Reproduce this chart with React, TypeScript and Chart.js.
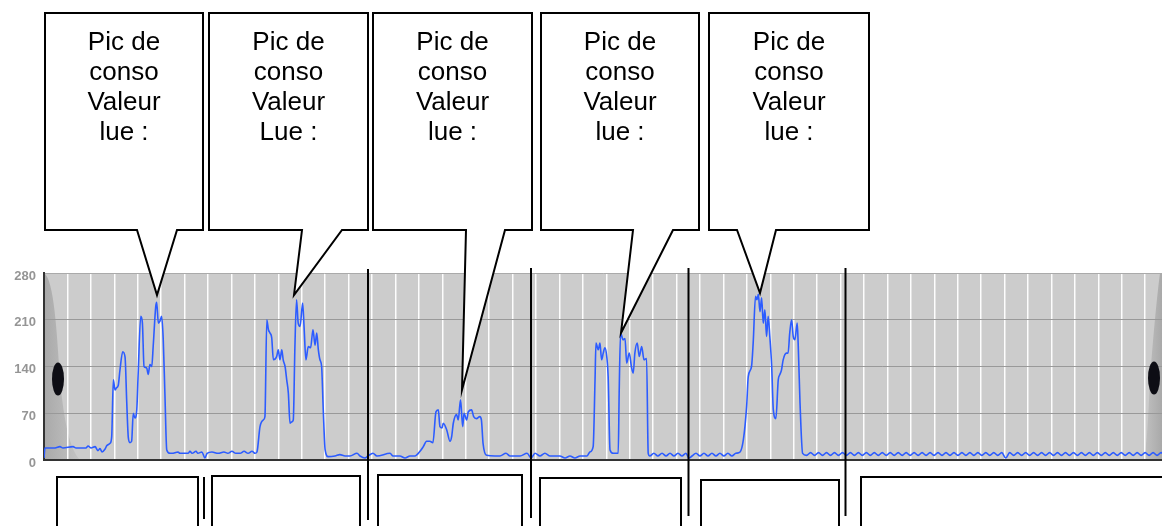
import { useEffect, useRef } from 'react';
import { Chart, registerables } from 'chart.js';

Chart.register(...registerables);

// ---- DATA (time in grid units, consumption value) ----
const times: number[] = [
  // baseline before peak 1
  0, 0.04, 0.47, 0.68, 0.81, 1.24, 1.37, 1.79, 1.88, 2.01, 2.18, 2.30, 2.39, 2.48, 2.60, 2.69, 2.82, 2.89,
  // peak 1
  2.96, 3.03, 3.09, 3.17, 3.24, 3.36, 3.46, 3.53, 3.60, 3.67, 3.74, 3.81, 3.88, 3.96, 4.02, 4.13, 4.20, 4.27,
  4.38, 4.45, 4.52, 4.60, 4.66, 4.77, 4.81, 4.88, 4.95, 5.02, 5.09, 5.16, 5.24,
  // baseline
  5.38, 5.46, 5.72, 5.80, 6.15, 6.23, 6.32, 6.49, 6.57, 6.74, 6.87, 6.96, 7.17, 7.43, 7.68, 7.85, 8.02, 8.19,
  8.37, 8.54, 8.71, 8.88, 9.01, 9.09,
  // peak 2
  9.22, 9.36, 9.43, 9.51, 9.58, 9.65, 9.72, 9.79, 9.93, 10.00, 10.07, 10.15, 10.21, 10.29, 10.36, 10.43, 10.50,
  10.57, 10.64, 10.71, 10.78, 10.85, 10.93, 11.04, 11.10, 11.18, 11.28, 11.38, 11.48, 11.57, 11.64, 11.71,
  11.78, 11.85, 11.92, 12.00, 12.13,
  // baseline
  12.42, 12.63, 12.85, 13.06, 13.36, 13.49, 13.70, 13.83, 14.04, 14.21, 14.77, 14.90, 15.19, 15.41, 15.62, 15.83,
  // peak 3
  16.05, 16.19, 16.33, 16.47, 16.60, 16.73, 16.83, 16.90, 16.99, 17.04, 17.19, 17.33, 17.40, 17.47, 17.61, 17.68,
  17.78, 17.87, 17.93, 18.04, 18.11, 18.25, 18.34, 18.46, 18.60, 18.67, 18.74, 18.89,
  // baseline
  19.25, 19.46, 19.72, 19.89, 20.32, 20.62, 20.79, 20.96, 21.17, 21.38, 21.60, 22.02, 22.24, 22.45, 22.66, 22.88, 23.18,
  // peak 4
  23.30, 23.44, 23.52, 23.56, 23.66, 23.73, 23.80, 23.87, 23.94, 24.02, 24.08, 24.16, 24.30, 24.51, 24.55, 24.61,
  24.72, 24.80, 24.87, 24.98, 25.08, 25.15, 25.22, 25.32, 25.41, 25.51, 25.61, 25.72, 25.79, 25.86,
  // baseline
  26.03, 26.20, 26.38, 26.55, 26.72, 26.89, 27.06, 27.23, 27.40, 27.53, 27.66, 27.83, 28.00, 28.17, 28.34, 28.51,
  28.68, 28.85, 29.02, 29.19, 29.36, 29.53,
  // peak 5
  29.71, 29.85, 29.99, 30.06, 30.20, 30.27, 30.37, 30.43, 30.49, 30.56, 30.63, 30.70, 30.77, 30.84, 30.91, 30.98,
  31.06, 31.13, 31.24, 31.34, 31.41, 31.48, 31.55, 31.69, 31.76, 31.83, 31.91, 31.98, 32.05, 32.15, 32.19, 32.27, 32.38,
  // baseline to the end
  32.55, 32.72, 32.89, 33.06, 33.23, 33.40, 33.57, 33.74, 33.91, 34.08, 34.25, 34.42, 34.59, 34.76, 34.93, 35.10,
  35.27, 35.44, 35.61, 35.78, 35.95, 36.12, 36.29, 36.46, 36.63, 36.80, 36.97, 37.14, 37.31, 37.48, 37.65, 37.82,
  37.99, 38.16, 38.33, 38.50, 38.67, 38.84, 39.01, 39.18, 39.35, 39.52, 39.69, 39.86, 40.03, 40.20, 40.37, 40.54,
  40.71, 40.88, 41.05, 41.22, 41.39, 41.56, 41.73, 41.90, 42.07, 42.24, 42.41, 42.58, 42.75, 42.92, 43.09, 43.26,
  43.43, 43.60, 43.77, 43.94, 44.11, 44.28, 44.45, 44.62, 44.79, 44.96, 45.13, 45.30, 45.47, 45.64, 45.81, 45.98,
  46.15, 46.32, 46.49, 46.66, 46.83, 47.00, 47.17, 47.34, 47.51, 47.68, 47.85,
];

const consumption: number[] = [
  // baseline before peak 1
  3, 18, 18, 20, 18, 20, 18, 18, 21, 18, 20, 14, 17, 12, 16, 22, 25, 35,
  // peak 1
  120, 105, 108, 112, 134, 162, 154, 88, 33, 26, 28, 70, 63, 75, 130, 215, 205, 140,
  138, 128, 143, 140, 170, 230, 236, 205, 208, 215, 180, 100, 15,
  // baseline
  10, 10, 12, 10, 10, 13, 10, 13, 10, 12, 3, 10, 12, 10, 12, 10, 13, 10,
  10, 13, 10, 13, 10, 12,
  // peak 2
  50, 60, 65, 210, 195, 190, 183, 150, 155, 165, 150, 165, 150, 140, 120, 100, 55,
  57, 60, 170, 240, 205, 200, 235, 200, 150, 170, 168, 195, 172, 190, 165,
  150, 140, 75, 15, 5,
  // baseline
  6, 8, 6, 6, 10, 6, 3, 6, 10, 6, 10, 6, 6, 3, 6, 6,
  // peak 3
  13, 20, 28, 28, 26, 72, 75, 50, 48, 55, 45, 28, 35, 55, 68, 60,
  90, 50, 70, 60, 72, 75, 65, 62, 65, 60, 25, 7,
  // baseline
  6, 6, 10, 6, 6, 10, 3, 10, 6, 10, 6, 6, 3, 6, 3, 6, 6,
  // peak 4
  12, 20, 120, 175, 165, 175, 150, 160, 168, 155, 125, 15, 10, 10, 100, 190,
  180, 182, 145, 160, 138, 130, 160, 175, 155, 170, 150, 152, 10, 6,
  // baseline
  10, 6, 10, 6, 10, 6, 10, 6, 10, 3, 6, 10, 6, 10, 6, 10,
  6, 10, 6, 10, 6, 10,
  // peak 5
  12, 30, 80, 125, 140, 175, 245, 240, 248, 222, 243, 205, 225, 185, 215, 185,
  140, 75, 62, 120, 128, 135, 150, 160, 160, 190, 210, 185, 180, 205, 175, 85, 10,
  // baseline to the end
  7, 11, 7, 11, 7, 11, 7, 11, 7, 11, 7, 11, 7, 11, 7, 11,
  7, 11, 7, 11, 7, 11, 7, 11, 7, 11, 7, 11, 7, 11, 7, 11,
  7, 11, 7, 11, 7, 11, 7, 11, 7, 11, 7, 11, 7, 11, 7, 11,
  7, 11, 3, 11, 7, 11, 7, 11, 7, 11, 7, 11, 7, 11, 7, 11,
  7, 11, 7, 11, 7, 11, 7, 11, 7, 11, 7, 11, 7, 11, 7, 11,
  7, 11, 7, 11, 7, 11, 7, 11, 7, 11, 7,
];

const yTickValues: number[] = [0, 70, 140, 210, 280];
const calloutHeader: string[] = ['Pic de', 'conso', 'Valeur'];
const calloutLastLine: string[] = ['lue :', 'Lue :', 'lue :', 'lue :', 'lue :'];

// ---- DECORATION LAYOUT (pixels) ----
const CALLOUTS = [
  { l: 45, t: 13, r: 203, b: 230, b1: 137, b2: 177, tx: 157, ty: 295 },
  { l: 209, t: 13, r: 368, b: 230, b1: 302, b2: 342, tx: 294, ty: 295 },
  { l: 373, t: 13, r: 532, b: 230, b1: 466, b2: 505, tx: 462, ty: 390 },
  { l: 541, t: 13, r: 699, b: 230, b1: 633, b2: 673, tx: 621, ty: 333 },
  { l: 709, t: 13, r: 869, b: 230, b1: 737, b2: 776, tx: 760, ty: 293 },
];
const BOTTOM_BOXES = [
  { l: 57, r: 198, t: 477 },
  { l: 212, r: 360, t: 476 },
  { l: 378, r: 522, t: 475 },
  { l: 540, r: 681, t: 478 },
  { l: 701, r: 839, t: 480 },
  { l: 861, r: 1200, t: 477 },
];
const SEPARATORS = [
  { x: 204, y1: 477, y2: 519 },
  { x: 368, y1: 269, y2: 520 },
  { x: 531, y1: 268, y2: 518 },
  { x: 688.5, y1: 268, y2: 516 },
  { x: 845.5, y1: 268, y2: 516 },
];

const backgroundPlugin = {
  id: 'bgShading',
  beforeDraw(chart: any) {
    const { ctx, chartArea: a } = chart;
    ctx.save();
    ctx.fillStyle = '#cccccc';
    ctx.fillRect(a.left, a.top, a.right - a.left, a.bottom - a.top);
    // left scroll shading
    let g = ctx.createLinearGradient(a.left, 0, a.left + 36, 0);
    g.addColorStop(0, '#a9a9a9');
    g.addColorStop(1, '#c4c4c4');
    ctx.fillStyle = g;
    ctx.beginPath();
    ctx.moveTo(a.left, a.top);
    ctx.bezierCurveTo(a.left + 10, a.top + 6, a.left + 13, a.top + 60, a.left + 16, a.top + 106);
    ctx.bezierCurveTo(a.left + 20, a.top + 150, a.left + 26, a.top + 176, a.left + 36, a.bottom);
    ctx.lineTo(a.left, a.bottom);
    ctx.closePath();
    ctx.fill();
    // right scroll shading
    g = ctx.createLinearGradient(a.right, 0, a.right - 20, 0);
    g.addColorStop(0, '#a9a9a9');
    g.addColorStop(1, '#c4c4c4');
    ctx.fillStyle = g;
    ctx.beginPath();
    ctx.moveTo(a.right, a.top);
    ctx.lineTo(a.right - 2, a.top);
    ctx.bezierCurveTo(a.right - 6, a.top + 30, a.right - 10, a.top + 80, a.right - 12, a.top + 106);
    ctx.bezierCurveTo(a.right - 14, a.top + 150, a.right - 15, a.top + 176, a.right - 19, a.bottom);
    ctx.lineTo(a.right, a.bottom);
    ctx.closePath();
    ctx.fill();
    ctx.restore();
  },
  afterDatasetsDraw(chart: any) {
    const { ctx } = chart;
    ctx.save();
    ctx.fillStyle = '#0d0d14';
    ctx.beginPath();
    ctx.ellipse(58, 379, 6, 16.5, 0, 0, Math.PI * 2);
    ctx.fill();
    ctx.beginPath();
    ctx.ellipse(1154, 378, 6, 16.5, 0, 0, Math.PI * 2);
    ctx.fill();
    ctx.restore();
  },
};

const annotationPlugin = {
  id: 'annotations',
  afterDraw(chart: any) {
    const { ctx } = chart;
    ctx.save();
    ctx.lineWidth = 2;
    ctx.strokeStyle = '#000';
    ctx.lineJoin = 'miter';
    // separators
    SEPARATORS.forEach((s) => {
      ctx.beginPath();
      ctx.moveTo(s.x, s.y1);
      ctx.lineTo(s.x, s.y2);
      ctx.stroke();
    });
    // bottom boxes
    BOTTOM_BOXES.forEach((b) => {
      ctx.fillStyle = '#fff';
      ctx.fillRect(b.l, b.t, b.r - b.l, 600 - b.t);
      ctx.beginPath();
      ctx.moveTo(b.l, 600);
      ctx.lineTo(b.l, b.t);
      ctx.lineTo(b.r, b.t);
      ctx.lineTo(b.r, 600);
      ctx.stroke();
    });
    // callouts
    CALLOUTS.forEach((c, i) => {
      ctx.beginPath();
      ctx.moveTo(c.l, c.t);
      ctx.lineTo(c.r, c.t);
      ctx.lineTo(c.r, c.b);
      ctx.lineTo(c.b2, c.b);
      ctx.lineTo(c.tx, c.ty);
      ctx.lineTo(c.b1, c.b);
      ctx.lineTo(c.l, c.b);
      ctx.closePath();
      ctx.fillStyle = '#fff';
      ctx.fill();
      ctx.stroke();
      ctx.fillStyle = '#000';
      ctx.font = '26px "Liberation Sans", Arial, sans-serif';
      ctx.textAlign = 'center';
      ctx.textBaseline = 'alphabetic';
      const cx = (c.l + c.r) / 2;
      const lines = [...calloutHeader, calloutLastLine[i]];
      lines.forEach((txt, k) => ctx.fillText(txt, cx, 49.5 + k * 30.2));
    });
    ctx.restore();
  },
};

export default function App() {
  const ref = useRef<HTMLCanvasElement | null>(null);
  useEffect(() => {
    if (!ref.current) return;
    const points = times.map((t, i) => ({ x: t, y: consumption[i] }));
    const chart = new Chart(ref.current, {
      type: 'line',
      data: {
        datasets: [
          {
            data: points,
            borderColor: '#2c5cff',
            borderWidth: 1.6,
            pointRadius: 0,
            fill: false,
            cubicInterpolationMode: 'monotone',
          },
        ],
      },
      options: {
        responsive: false,
        animation: false,
        events: [],
        layout: { padding: { top: 273, bottom: 66, left: 0, right: 0 } },
        plugins: {
          legend: { display: false },
          tooltip: { enabled: false },
        },
        scales: {
          x: {
            type: 'linear',
            min: 0,
            max: 47.72,
            afterFit: (s: any) => {
              s.height = 0;
            },
            ticks: { display: false, stepSize: 1, includeBounds: false },
            grid: { color: 'rgba(255,255,255,0.95)', lineWidth: 1.5, drawTicks: false },
            border: { display: true, color: '#333', width: 2 },
          },
          y: {
            type: 'linear',
            min: 0,
            max: 280,
            afterFit: (s: any) => {
              s.width = 44;
            },
            afterBuildTicks: (s: any) => {
              s.ticks = yTickValues.map((v) => ({ value: v }));
            },
            ticks: {
              padding: 8,
              labelOffset: 3,
              color: '#959595',
              font: { family: '"Liberation Sans", Arial, sans-serif', size: 13, weight: 'bold' },
            },
            grid: {
              color: (c: any) => (c.tick && c.tick.value === 280 ? '#aaaaaa' : '#999999'),
              lineWidth: 1,
              drawTicks: false,
            },
            border: { display: true, color: '#333', width: 2 },
          },
        },
      },
      plugins: [backgroundPlugin, annotationPlugin],
    } as any);
    return () => chart.destroy();
  }, []);
  return (
    <div style={{ position: 'fixed', left: 0, top: 0, width: 1162, height: 526, background: '#fff' }}>
      <canvas ref={ref} width={1162} height={526} style={{ display: 'block' }} />
    </div>
  );
}
